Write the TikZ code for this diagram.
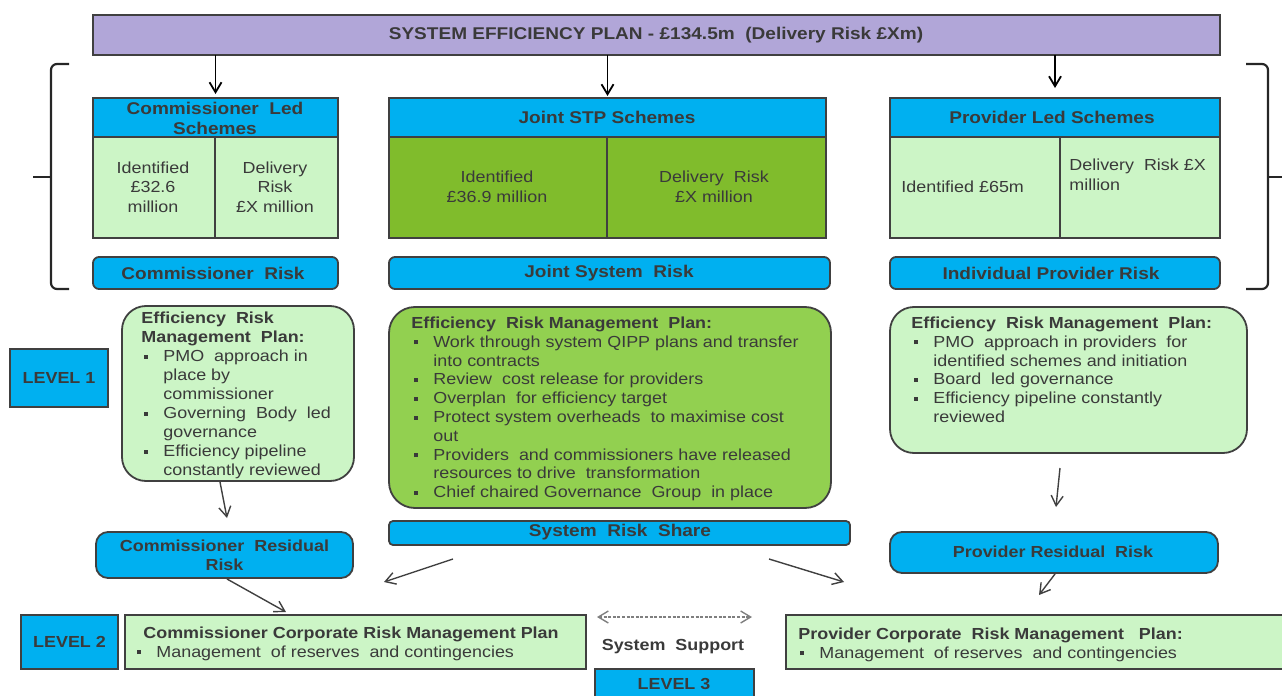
\documentclass[tikz,border=0pt]{standalone}
\usepackage{fontspec}
\setmainfont{Liberation Sans}[FakeStretch=1.12]
\usetikzlibrary{arrows.meta,calc,fit}

\definecolor{titlepurple}{HTML}{B1A6D8}
\definecolor{skyblue}{HTML}{00B0F0}
\definecolor{palegreen}{HTML}{CCF5C6}
\definecolor{leafgreen}{HTML}{80BC2C}
\definecolor{limegreen}{HTML}{92D050}
\definecolor{edgegray}{HTML}{404040}
\definecolor{inkgray}{HTML}{3A3A3A}
\definecolor{dashgray}{HTML}{7F7F7F}

% bullet item and continuation indent for the plan lists
\newcommand\pbul{\hspace*{1.5pt}\makebox[9.5pt][l]{\raisebox{1.4pt}{\rule{2pt}{2pt}}}}
\newcommand\pcont{\hspace*{11pt}}
\newcommand\pstrut{\vrule width0pt height6pt}

\tikzset{
  frame/.style={draw=edgegray, line width=0.9pt, inner sep=0pt, outer sep=0pt},
  body/.style={text=inkgray, inner sep=0pt, font=\fontsize{8}{9.75}\selectfont},
  boldtxt/.style={text=inkgray, inner sep=0pt, font=\fontsize{8}{9.5}\selectfont\bfseries},
  headtxt/.style={text=inkgray, inner sep=0pt, font=\fontsize{8.5}{10}\selectfont\bfseries},
  listtxt/.style={text=inkgray, inner sep=0pt, align=left, anchor=north west,
                  font=\fontsize{8}{#1}\selectfont},
  bracket/.style={draw=black!85, line width=1.1pt, rounded corners=3pt},
  toparr/.style={-{Straight Barb[length=5pt,width=6pt]}, line width=0.9pt, black},
  arr/.style={-{Straight Barb[length=5pt,width=6pt]}, line width=0.7pt, edgegray},
  duoarr/.style={{Straight Barb[length=5pt,width=6pt]}-{Straight Barb[length=5pt,width=6pt]},
                 line width=0.7pt, dashgray, dash pattern=on 1.5pt off 0.8pt},
}

\begin{document}
\begin{tikzpicture}[x=0.5pt,y=-0.5pt]
\useasboundingbox (0,0) rectangle (1282,696);
\clip (0,0) rectangle (1282,696);

% ---------- overall plan ----------
\node[frame, fill=titlepurple, fit={(93,15)(1220,55)}] (plan) {};
\node[headtxt] (plantxt) at (656,35) {SYSTEM EFFICIENCY PLAN - £134.5m\ \ (Delivery Risk £Xm)};

% ---------- scheme boxes ----------
\node[frame, fill=skyblue, fit={(93,98)(338,137)}] (clhead) {};
\node[headtxt, align=center] (clheadtxt) at (215,118) {Commissioner\ \ Led\\Schemes};
\node[frame, fill=palegreen, fit={(93,137)(215,238)}] (clid) {};
\node[frame, fill=palegreen, fit={(215,137)(338,238)}] (cldr) {};
\node[body, align=center] (clidtxt) at (153,187) {Identified\\£32.6\\million};
\node[body, align=center] (cldrtxt) at (275,187) {Delivery\\Risk\\£X million};

\node[frame, fill=skyblue, fit={(389,98)(826,137)}] (jshead) {};
\node[headtxt] (jsheadtxt) at (607,117) {Joint STP Schemes};
\node[frame, fill=leafgreen, fit={(389,137)(607,238)}] (jsid) {};
\node[frame, fill=leafgreen, fit={(607,137)(826,238)}] (jsdr) {};
\node[body, align=center] (jsidtxt) at (497,187) {Identified\\£36.9 million};
\node[body, align=center] (jsdrtxt) at (714,187) {Delivery\ \ Risk\\£X million};

\node[frame, fill=skyblue, fit={(890,98)(1220,137)}] (plhead) {};
\node[headtxt] (plheadtxt) at (1052,117) {Provider Led Schemes};
\node[frame, fill=palegreen, fit={(890,137)(1060,238)}] (plid) {};
\node[frame, fill=palegreen, fit={(1060,137)(1220,238)}] (pldr) {};
\node[body, anchor=west] (plidtxt) at (901,187) {Identified £65m};
\node[body, align=left, anchor=north west] (pldrtxt) at (1069,159) {Delivery\ \ Risk £X\\million};

% ---------- risk bars ----------
\node[frame, fill=skyblue, rounded corners=3pt, fit={(93,257)(338,289)}] (crisk) {};
\node[headtxt] (crisktxt) at (213,273) {Commissioner\ \ Risk};
\node[frame, fill=skyblue, rounded corners=3pt, fit={(389,257)(830,289)}] (jrisk) {};
\node[headtxt] (jrisktxt) at (609,273) {Joint System\ \ Risk};
\node[frame, fill=skyblue, rounded corners=3pt, fit={(890,257)(1220,289)}] (prisk) {};
\node[headtxt] (prisktxt) at (1051,273) {Individual Provider Risk};

% ---------- brackets ----------
\draw[bracket] (69,64) -- (51,64) -- (51,289) -- (69,289);
\draw[bracket] (33,177) -- (51,177);
\draw[bracket] (1246,64) -- (1268,64) -- (1268,289) -- (1246,289);
\draw[bracket] (1268,177) -- (1282,177);

% ---------- arrows from the plan ----------
\draw[toparr, shorten >=2pt] (clhead.north |- plan.south) -- (clhead.north);
\draw[toparr, shorten >=1pt] (jshead.north |- plan.south) -- (jshead.north);
\draw[toparr, shorten >=5pt] (plhead.north |- plan.south) -- (plhead.north);

% ---------- level markers ----------
\node[frame, fill=skyblue, fit={(10,349)(108,407)}] (lvl1) {};
\node[boldtxt] (lvl1txt) at (lvl1) {LEVEL 1};
\node[frame, fill=skyblue, fit={(21,615)(118,669)}] (lvl2) {};
\node[boldtxt] (lvl2txt) at (lvl2) {LEVEL 2};
\node[frame, fill=skyblue, fit={(595,669)(754,712)}] (lvl3) {};
\node[boldtxt] (lvl3txt) at (674,684) {LEVEL 3};

% ---------- risk management plans ----------
\node[frame, fill=palegreen, rounded corners=12pt, fit={(122,306)(354,481)}] (lplan) {};
\node[listtxt=9.5pt] (lplantxt) at (141,311) {\pstrut\textbf{Efficiency\ \ Risk}\\
\textbf{Management\ \ Plan:}\\
\pbul PMO\ \ approach in\\
\pcont place by\\
\pcont commissioner\\
\pbul Governing\ \ Body\ \ led\\
\pcont governance\\
\pbul Efficiency pipeline\\
\pcont constantly reviewed};

\node[frame, fill=limegreen, rounded corners=13pt, fit={(389,307)(831,508)}] (mplan) {};
\node[listtxt=9.4pt] (mplantxt) at (411,316) {\pstrut\textbf{Efficiency\ \ Risk Management\ \ Plan:}\\
\pbul Work through system QIPP plans and transfer\\
\pcont into contracts\\
\pbul Review\ \ cost release for providers\\
\pbul Overplan\ \ for efficiency target\\
\pbul Protect system overheads\ \ to maximise cost\\
\pcont out\\
\pbul Providers\ \ and commissioners have released\\
\pcont resources to drive\ \ transformation\\
\pbul Chief chaired Governance\ \ Group\ \ in place};

\node[frame, fill=palegreen, rounded corners=12pt, fit={(890,307)(1247,453)}] (rplan) {};
\node[listtxt=9.4pt] (rplantxt) at (911,316) {\pstrut\textbf{Efficiency\ \ Risk Management\ \ Plan:}\\
\pbul PMO\ \ approach in providers\ \ for\\
\pcont identified schemes and initiation\\
\pbul Board\ \ led governance\\
\pbul Efficiency pipeline constantly\\
\pcont reviewed};

% ---------- residual risk ----------
\node[frame, fill=skyblue, rounded corners=6pt, fit={(96,532)(353,578)}] (cres) {};
\node[boldtxt, align=center] (crestxt) at (cres) {Commissioner\ \ Residual\\Risk};
\node[frame, fill=skyblue, rounded corners=2pt, fit={(389,521)(850,545)}] (share) {};
\node[headtxt] (sharetxt) at (620,532) {System\ \ Risk\ \ Share};
\node[frame, fill=skyblue, rounded corners=6pt, fit={(890,532)(1218,573)}] (pres) {};
\node[boldtxt] (prestxt) at (1053,552) {Provider Residual\ \ Risk};

% ---------- corporate plans ----------
\node[frame, fill=palegreen, fit={(125,615)(586,669)}] (ccorp) {};
\node[boldtxt, anchor=base west] (ccorphead) at (143,638) {Commissioner\ Corporate\ Risk Management\ Plan};
\node[body, anchor=base west] (ccorpitem) at (134,657) {\pbul Management\ \ of reserves\ \ and contingencies};
\node[frame, fill=palegreen, fit={(786,615)(1295,669)}] (pcorp) {};
\node[boldtxt, anchor=base west] (pcorphead) at (798,639) {Provider Corporate\ \ Risk Management\ \ \ Plan:};
\node[body, anchor=base west] (pcorpitem) at (797,658) {\pbul Management\ \ of reserves\ \ and contingencies};

% ---------- system support ----------
\coordinate (supL) at (597,617);
\coordinate (supR) at (752,617);
\draw[duoarr] (supL) -- (supR);
\node[boldtxt] (suptxt) at (673,647) {System\ \ Support};

% ---------- flow between levels ----------
\coordinate (shareL) at (384,582);
\coordinate (shareR) at (844,582);
\draw[arr] ($(lplan.south)+(-18,1)$) -- ($(cres.north)+(2.5,-14)$);
\draw[arr] ($(cres.south)+(2.5,1)$) -- ($(ccorp.north)+(-69.5,-3)$);
\draw[arr] ($(share.south)+(-166.5,14)$) -- (shareL);
\draw[arr] ($(share.south)+(149.5,14)$) -- (shareR);
\draw[arr] ($(rplan.south)+(-8.5,15)$) -- ($(pres.north)+(2,-25)$);
\draw[arr] ($(pres.south)+(1,1)$) -- ($(pres.south)+(-15,22)$);
\end{tikzpicture}
\end{document}
